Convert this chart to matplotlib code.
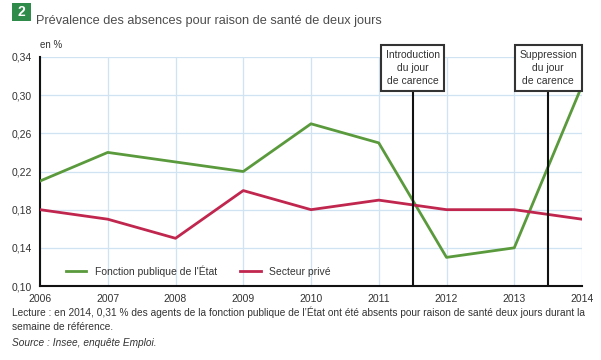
import matplotlib
matplotlib.use("Agg")
import matplotlib.pyplot as plt
from matplotlib.patches import Rectangle

years = [2006, 2007, 2008, 2009, 2010, 2011, 2012, 2013, 2014]
fonction_publique = [0.21, 0.24, 0.23, 0.22, 0.27, 0.25, 0.13, 0.14, 0.31]
secteur_prive = [0.18, 0.17, 0.15, 0.20, 0.18, 0.19, 0.18, 0.18, 0.17]
yticks = [0.10, 0.14, 0.18, 0.22, 0.26, 0.30, 0.34]
events = [2011.5, 2013.5]
event_labels = ["Introduction\ndu jour\nde carence", "Suppression\ndu jour\nde carence"]

FONT = ["Liberation Sans Narrow", "Liberation Sans", "DejaVu Sans"]
plt.rcParams['font.family'] = FONT

fig = plt.figure(figsize=(6.01, 3.6), dpi=100)
ax = fig.add_axes([40/601, 1-286/360, (582-40)/601, (286-57)/360])

green = "#5a9a3c"
red = "#c0264e"
ax.plot(years, fonction_publique, color=green, lw=2.0, label="Fonction publique de l'État", zorder=3)
ax.plot(years, secteur_prive, color=red, lw=2.0, label="Secteur privé", zorder=3)

ax.set_xlim(2006, 2014)
ax.set_ylim(0.10, 0.34)
ax.set_xticks(years)
ax.set_yticks(yticks)
ax.set_xticklabels([str(y) for y in years], fontsize=7.5, color="#333333")
ax.set_yticklabels([f"{v:.2f}".replace(".", ",") for v in yticks], fontsize=7.5, color="#333333")
ax.tick_params(length=0, pad=6)
ax.grid(True, color="#cfe3f2", lw=0.9, zorder=0)
for s in ["top", "right"]:
    ax.spines[s].set_visible(False)
for s in ["left", "bottom"]:
    ax.spines[s].set_linewidth(1.5)
    ax.spines[s].set_color("#111111")

for x, lab in zip(events, event_labels):
    ax.plot([x, x], [0.10, 0.32], color="#111111", lw=1.5, zorder=4)
    ax.text(x, 0.3285, lab, ha="center", va="center",
            fontsize=7.5, color="#333333", linespacing=1.4, zorder=5,
            bbox=dict(boxstyle="square,pad=0.45", fc="white", ec="#333333", lw=1.5))

leg = ax.legend(loc="lower left", bbox_to_anchor=(0.03, 0.0), ncol=2, frameon=False,
                fontsize=7.5, handlelength=2.0, columnspacing=2.2)
for t in leg.get_texts():
    t.set_color("#333333")

fig.patches.append(Rectangle((12/601, 1-21/360), 19/601, 18/360, transform=fig.transFigure,
                             facecolor="#2e8b4a", edgecolor="none"))
fig.text(21.5/601, 1-12/360, "2", color="white", fontsize=10, fontweight="bold",
         ha="center", va="center", family=["Liberation Sans", "DejaVu Sans"])
fig.text(36/601, 1-21/360, "Prévalence des absences pour raison de santé de deux jours",
         fontsize=9.2, color="#4d4d4d", ha="left", va="center")
fig.text(40/601, 1-45/360, "en %", fontsize=7, color="#333333", ha="left", va="center")

fig.text(12/601, 1-312/360,
         "Lecture : en 2014, 0,31 % des agents de la fonction publique de l’État ont été absents pour raison de santé deux jours durant la",
         fontsize=7.3, color="#333333", ha="left", va="center")
fig.text(12/601, 1-327/360, "semaine de référence.", fontsize=7.3, color="#333333", ha="left", va="center")
fig.text(12/601, 1-343/360, "Source : Insee, enquête Emploi.", fontsize=7.3, color="#333333",
         ha="left", va="center", style="italic")

fig.savefig("out.png", dpi=100)
